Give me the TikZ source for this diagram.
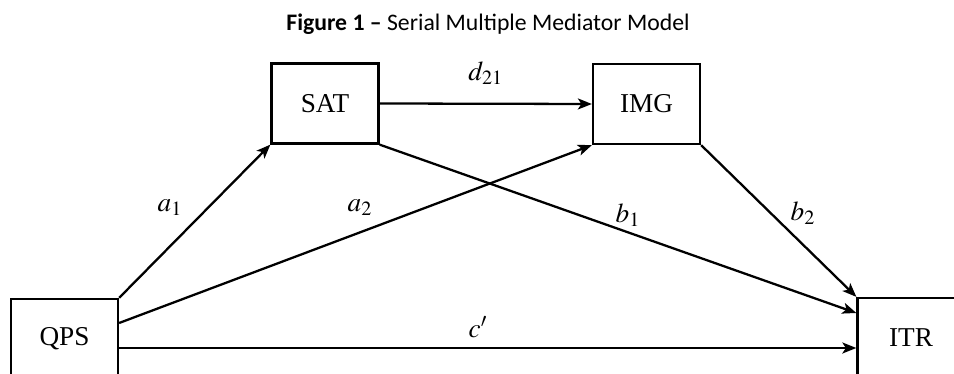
\documentclass[tikz,border=0pt]{standalone}
\usepackage{mathptmx}
\usepackage{fontspec}
\setmainfont{Liberation Serif}
\newfontfamily\titlefont{Carlito}
\usepackage{tikz}
\usetikzlibrary{arrows.meta}

\tikzset{
	varbox/.style={draw, line width=1.3pt, minimum width=2.14cm, minimum height=1.6cm, inner sep=0pt, font=\fontsize{15.5}{18}\selectfont},
	path/.style={line width=1.3pt, -{Stealth[length=0.28cm, width=0.22cm, inset=0.07cm]}},
	coef/.style={font=\fontsize{15.5}{18}\selectfont}
}

\begin{document}
\begin{tikzpicture}[x=0.02cm, y=-0.02cm]
		\useasboundingbox (0,0) rectangle (954,374);
		\clip (0,0) rectangle (954,374);
		\node [font=\titlefont\fontsize{13.5}{16}\selectfont] (title) at (488,24) {\textbf{Figure 1 –} Serial Multiple Mediator Model};
		
		\node [varbox] (SAT) at (325,103.5) {SAT};
		\node [varbox] (IMG) at (646.5,104) {IMG};
		\node [varbox] (QPS) at (64.5,339) {QPS};
		\node [varbox] (ITR) at (911,338) {ITR};
		
		\draw [path] (SAT.east) -- (IMG.west) node [coef, midway, above=0.25cm] {$d_{21}$};
		\draw [path] (QPS.north east) -- (SAT.south west) node [coef] at (170,208) {$a_1$};
		\draw [path] ([yshift=0.32cm]QPS.east) -- (IMG.south west) node [coef] at (360,208) {$a_2$};
		\draw [path] (SAT.south east) -- ([yshift=0.5cm]ITR.west) node [coef] at (628,215) {$b_1$};
		\draw [path] (IMG.south east) -- (ITR.north west) node [coef] at (803,213) {$b_2$};
		\draw [path] ([yshift=-0.18cm]QPS.east) -- ([yshift=-0.18cm]QPS.east -| ITR.west) node [coef] at (478,327) {$c'$};
	\end{tikzpicture}
\end{document}
